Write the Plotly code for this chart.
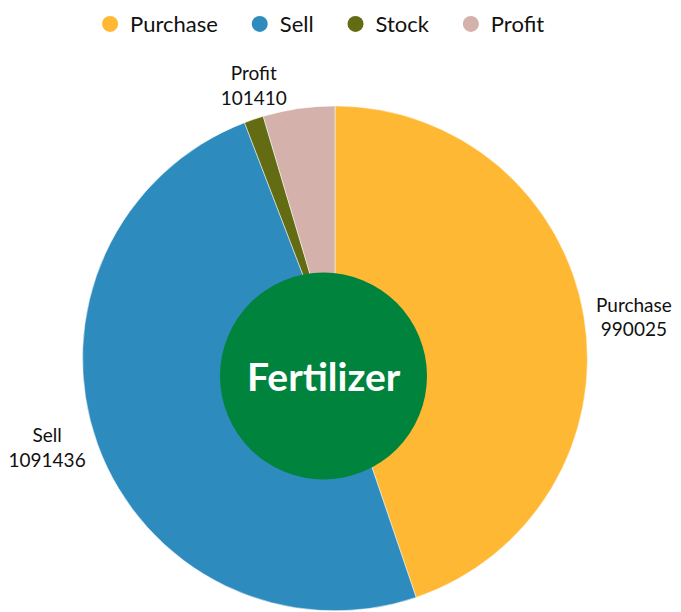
import plotly.graph_objects as go

labels = ["Purchase", "Sell", "Stock", "Profit"]
values = [990025, 1091436, 27500, 101410]
colors = ["#FFB833", "#2E8BBE", "#636C12", "#D4B1AA"]
center_text = "Fertilizer"

W, H = 681, 612
FONT = "Lato"
PAD = "\u00a0" * 3  # extra room between legend entries

fig = go.Figure(go.Pie(
    labels=labels,
    values=values,
    sort=False,
    direction="clockwise",
    rotation=0,
    marker=dict(colors=colors, line=dict(color="white", width=0.5)),
    texttemplate="%{label}<br>%{value:.0f}",
    textposition=["outside", "outside", "none", "outside"],
    textfont=dict(size=19, color="#111111", family=FONT),
    domain=dict(x=[0, 0.9603], y=[0.015, 0.84]),
    showlegend=False,
    hoverinfo="label+value",
))

# legend with round markers (dummy traces)
for name, col in zip(labels, colors):
    fig.add_trace(go.Scatter(
        x=[None], y=[None], mode="markers", name=name + PAD,
        marker=dict(color=col, size=19, symbol="circle"),
    ))

# green disc in the middle with the title
cx, cy, r = 315.5, 368, 103.5
fig.add_shape(
    type="circle", xref="paper", yref="paper",
    xsizemode="pixel", ysizemode="pixel",
    xanchor=cx / W, yanchor=1 - cy / H,
    x0=-r, x1=r, y0=-r, y1=r,
    fillcolor="#00843D", line=dict(width=0), layer="above",
)
fig.add_annotation(
    x=cx / W, y=1 - cy / H, xref="paper", yref="paper",
    text="<b>" + center_text + "</b>", showarrow=False,
    font=dict(size=39, color="white", family=FONT),
)

fig.update_layout(
    width=W, height=H,
    margin=dict(l=0, r=0, t=0, b=0, autoexpand=False),
    paper_bgcolor="white",
    plot_bgcolor="white",
    xaxis=dict(visible=False),
    yaxis=dict(visible=False),
    showlegend=True,
    legend=dict(
        orientation="h", x=0.47, xanchor="center", y=1.008, yanchor="top",
        font=dict(size=22, color="#111111", family=FONT),
    ),
)

fig.write_html("out.html")
